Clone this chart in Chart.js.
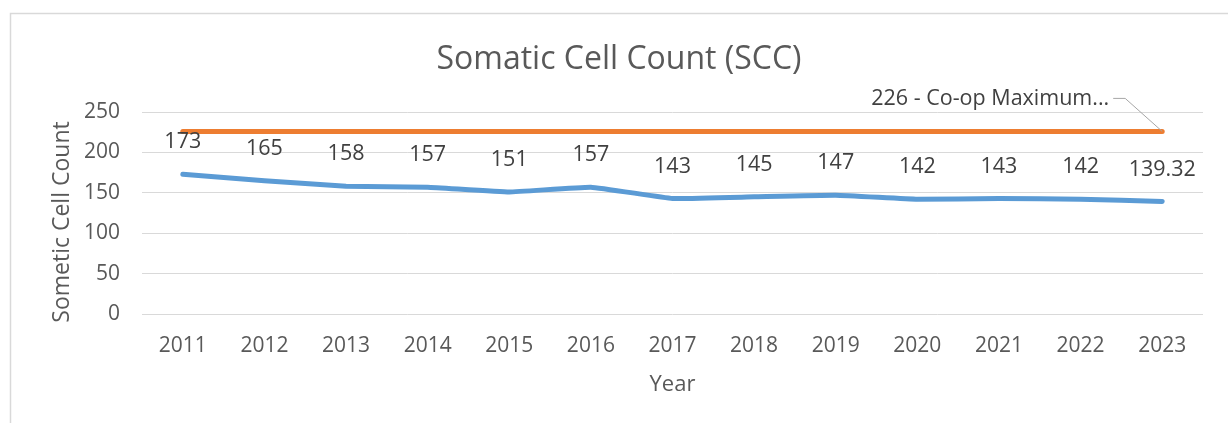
<!DOCTYPE html>
<html>
<head>
<meta charset="utf-8">
<script src="https://cdn.jsdelivr.net/npm/chart.js@4"></script>
<style>
  html, body { margin: 0; padding: 0; background: #fff; }
  #wrap { width: 1228px; height: 423px; position: relative; }
</style>
</head>
<body>
<div id="wrap"><canvas id="graficoSCC" width="1228" height="423"></canvas></div>
<script>
// dados do gráfico
const anos = ["2011", "2012", "2013", "2014", "2015", "2016", "2017", "2018", "2019", "2020", "2021", "2022", "2023"];
const contagemSCC = [173, 165, 158, 157, 151, 157, 143, 145, 147, 142, 143, 142, 139.32];
const maximoCoop = [226, 226, 226, 226, 226, 226, 226, 226, 226, 226, 226, 226, 226];
const rotuloMaximo = "226 - Co-op Maximum...";
const ticksY = [0, 50, 100, 150, 200, 250];

const fonte = "'Open Sans', 'DejaVu Sans', sans-serif";
const cinzaTexto = "#595959";

// moldura cinza, títulos e rótulos de dados
const pluginExtras = {
  id: "extras",
  beforeDraw(chart) {
    const c = chart.ctx;
    c.save();
    c.strokeStyle = "#D9D9D9";
    c.lineWidth = 1.5;
    c.strokeRect(10.5, 13.5, 1400, 600);

    c.fillStyle = cinzaTexto;
    c.textAlign = "center";
    c.textBaseline = "middle";

    // título principal, centrado na moldura
    c.font = "32px " + fonte;
    c.fillText("Somatic Cell Count (SCC)", 619, 60);

    // título do eixo Y
    c.translate(62, 222);
    c.rotate(-Math.PI / 2);
    c.font = "23px " + fonte;
    c.fillText("Sometic Cell Count", 0, 0);
    c.restore();
  },
  afterDatasetsDraw(chart) {
    const c = chart.ctx;
    c.save();
    c.font = "21.5px " + fonte;
    c.fillStyle = "#404040";
    c.textAlign = "center";
    c.textBaseline = "middle";
    const pontos = chart.getDatasetMeta(0).data;
    pontos.forEach((p, i) => {
      c.fillText(String(contagemSCC[i]), p.x, p.y - 32);
    });

    // rótulo da linha laranja com linha guia
    const pts2 = chart.getDatasetMeta(1).data;
    const ult = pts2[pts2.length - 1];
    const ly = ult.y - 33;
    c.strokeStyle = "#A6A6A6";
    c.lineWidth = 1;
    c.beginPath();
    c.moveTo(ult.x - 49, ly);
    c.lineTo(ult.x - 37, ly);
    c.lineTo(ult.x, ult.y);
    c.stroke();
    c.textAlign = "right";
    c.fillText(rotuloMaximo, ult.x - 53, ly);
    c.restore();
  }
};

const ctx = document.getElementById("graficoSCC").getContext("2d");

new Chart(ctx, {
  type: "line",
  data: {
    labels: anos,
    datasets: [{
      label: "SCC",
      data: contagemSCC,
      borderColor: "#5B9BD5",
      borderWidth: 5,
      borderCapStyle: "round",
      borderJoinStyle: "round",
      tension: 0.1,
      pointRadius: 0
    }, {
      label: "Co-op Maximum",
      data: maximoCoop,
      borderColor: "#ED7D31",
      borderWidth: 5,
      borderCapStyle: "round",
      pointRadius: 0
    }]
  },
  options: {
    responsive: false,
    animation: false,
    layout: { padding: { left: 0, top: 112, right: 25, bottom: 0 } },
    plugins: {
      legend: { display: false },
      tooltip: { enabled: false },
      title: { display: false }
    },
    scales: {
      x: {
        offset: true,
        grid: { display: false, drawTicks: false },
        border: { display: false },
        ticks: {
          color: cinzaTexto,
          font: { family: fonte, size: 21 },
          padding: 19,
          maxRotation: 0
        },
        title: {
          display: true,
          text: "Year",
          color: cinzaTexto,
          font: { family: fonte, size: 22, lineHeight: 1.2 },
          padding: { top: 0, bottom: 25 }
        },
        afterFit(scale) { scale.height = 423 - 314; }
      },
      y: {
        min: 0,
        max: 250,
        afterBuildTicks(scale) { scale.ticks = ticksY.map(v => ({ value: v })); },
        grid: { color: "#D9D9D9", lineWidth: 1, drawTicks: false },
        border: { display: false },
        ticks: {
          color: cinzaTexto,
          font: { family: fonte, size: 21 },
          padding: 22
        },
        afterFit(scale) { scale.width = 142; }
      }
    }
  },
  plugins: [pluginExtras]
});
</script>
</body>
</html>
